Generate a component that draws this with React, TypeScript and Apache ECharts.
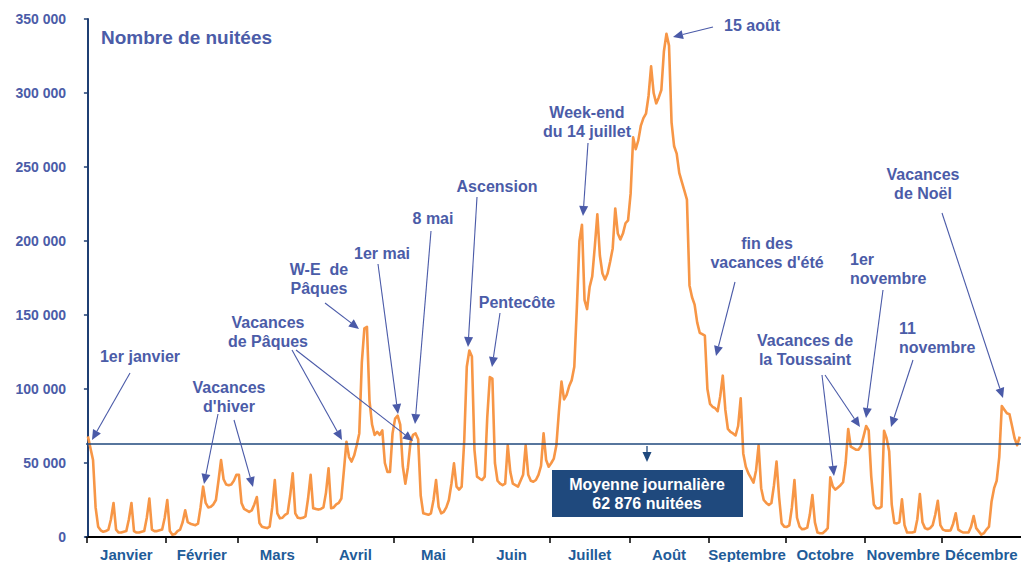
import React, { useEffect, useRef } from "react";
import * as echarts from "echarts";

// ---- Data (nuitées, in thousands), one value per day of the year ----
const MONTHS = ["Janvier", "Février", "Mars", "Avril", "Mai", "Juin", "Juillet", "Août", "Septembre", "Octobre", "Novembre", "Décembre"];
const JAN = [68, 60, 52, 20, 7, 4.5, 3.5, 4, 5, 12, 23, 5, 3, 3, 3.5, 4, 12, 23, 4, 3, 3, 3.5, 4, 13, 26, 5, 4, 4, 4.5, 5, 13];
const FEB = [25, 4, 1.5, 2, 4, 5, 10, 18, 10, 9, 8.5, 8, 9, 20, 34, 23, 20, 20.5, 22, 25, 38, 52, 39, 35.5, 35, 35.5, 38, 42];
const MAR = [42, 23, 19, 18, 17, 18, 22, 27, 9.5, 7, 6.5, 6, 7, 20, 38.5, 16, 12.6, 13, 15, 16, 28, 43, 16, 13, 12.6, 13, 14, 26, 42, 19.4, 19];
const APR = [18.5, 19, 20, 30, 46.4, 19.4, 20, 22, 23, 26, 45, 64.4, 54, 51, 55, 62, 70, 118, 141, 142, 92, 76, 69, 71, 69, 72, 50, 44, 44, 70];
const MAY = [80, 82, 76, 48, 36, 47, 64, 69, 70, 66, 28, 16, 15.5, 15, 16, 25, 38.5, 20.5, 16, 17, 20, 25, 36, 49.8, 34, 32, 34, 65, 115, 126, 122];
const JUN = [58.8, 40.8, 39.5, 38.5, 40.8, 81, 108, 107, 50, 38, 36, 35, 36, 62, 44, 36, 35, 34, 38, 42, 62, 42, 38, 37.4, 38.5, 42, 48, 70, 52, 47.5];
const JUL = [50, 53, 62, 85, 105, 93, 96, 102, 106, 115, 155, 200, 211, 160, 154, 169, 176, 196, 218, 190, 178, 174, 178, 186, 195, 222, 205, 201, 205, 212, 214];
const AUG = [232, 270, 262, 268, 278, 283, 286, 298, 318, 300, 293, 297, 302, 328, 340, 332, 280, 264, 259, 246, 240, 234, 228, 170, 162, 157, 145, 138, 137, 136, 100];
const SEP = [90, 88, 87, 85, 95, 109, 86, 73, 71, 70, 68.6, 75, 93.7, 56.5, 47.5, 43, 40, 36.7, 45, 62, 33, 25, 23, 21.6, 23, 35, 51, 27, 9.2, 7];
const OCT = [6.8, 7.9, 20, 38.5, 13, 7, 5.2, 5.5, 6.3, 15, 28.4, 9.9, 3, 2.5, 2.5, 4, 6, 40.3, 34, 32, 33.5, 35, 37, 50, 73, 61, 60, 59, 59, 61.5, 68];
const NOV = [75, 72, 41, 22, 19.4, 19.4, 20.5, 71.8, 66.7, 58, 22, 9.5, 9.2, 10, 25.5, 8, 3, 3, 3, 3.5, 12, 29, 10, 6, 5.2, 6, 8, 15, 24.5, 8];
const DEC = [5, 4.3, 4.3, 4.5, 9, 16, 5, 3.8, 3, 3, 3, 7, 14.2, 6, 3.8, 1.6, 2.6, 5, 7, 24, 33, 38, 54, 88.5, 86, 83.6, 83, 75, 66.7, 62, 67.8];
const MONTH_VALUES = [JAN, FEB, MAR, APR, MAY, JUN, JUL, AUG, SEP, OCT, NOV, DEC];
const MEAN = 62876;
const Y_MAX = 350000;
const Y_STEP = 50000;

const FONT = "Arial, 'Liberation Sans', Helvetica, sans-serif";
const ANN_COLOR = "#4B5CA8";
const ARROW_COLOR = "#4A5AA8";
const NAVY = "#1F497D";

type Ann = { lines: string[]; x: number; y: number; align?: "left" | "center" };
const ANNOTATIONS: Ann[] = [
  { lines: ["1er janvier"], x: 140, y: 356 },
  { lines: ["Vacances", "d'hiver"], x: 229, y: 387 },
  { lines: ["Vacances", "de Pâques"], x: 268, y: 322 },
  { lines: ["W-E  de", "Pâques"], x: 319, y: 269 },
  { lines: ["1er mai"], x: 382, y: 253 },
  { lines: ["8 mai"], x: 433, y: 218 },
  { lines: ["Ascension"], x: 497, y: 186 },
  { lines: ["Pentecôte"], x: 517, y: 302 },
  { lines: ["Week-end", "du 14 juillet"], x: 587, y: 112 },
  { lines: ["15 août"], x: 752, y: 25 },
  { lines: ["fin des", "vacances d'été"], x: 767, y: 243 },
  { lines: ["Vacances de", "la Toussaint"], x: 805, y: 340 },
  { lines: ["1er", "novembre"], x: 850, y: 259, align: "left" },
  { lines: ["11", "novembre"], x: 899, y: 328, align: "left" },
  { lines: ["Vacances", "de Noël"], x: 923, y: 174 },
];
const ARROWS: [number, number, number, number][] = [
  [130, 373, 92, 440],
  [218, 414, 204, 484],
  [234, 420, 253, 487],
  [292, 350, 342, 440],
  [296, 350, 413, 441],
  [325, 303, 359, 329],
  [378, 264, 398, 414],
  [431, 231, 415, 424],
  [477, 197, 468, 347],
  [500, 313, 492, 367],
  [588, 143, 583, 216],
  [713, 27, 673, 37],
  [735, 282, 716, 356],
  [822, 375, 834, 476],
  [825, 375, 860, 427],
  [883, 290, 866, 418],
  [913, 360, 891, 427],
  [942, 213, 1003, 398],
];

function arrow(x1: number, y1: number, x2: number, y2: number, color: string, width = 1.1): any[] {
  const dx = x2 - x1;
  const dy = y2 - y1;
  const len = Math.sqrt(dx * dx + dy * dy);
  const ux = dx / len;
  const uy = dy / len;
  const L = 10;
  const W = 4.5;
  const bx = x2 - ux * L;
  const by = y2 - uy * L;
  return [
    { type: "line", z: 20, shape: { x1, y1, x2: bx, y2: by }, style: { stroke: color, lineWidth: width } },
    {
      type: "polygon",
      z: 20,
      shape: { points: [[x2, y2], [bx - uy * W, by + ux * W], [bx + uy * W, by - ux * W]] },
      style: { fill: color },
    },
  ];
}

export default function App() {
  const ref = useRef<HTMLDivElement>(null);
  useEffect(() => {
    if (!ref.current) return;
    const chart = echarts.init(ref.current, null, { renderer: "svg" });

    const points: [number, number][] = [];
    const tickVals: number[] = [];
    const labelVals: number[] = [];
    const labelMap = new Map<number, string>();
    let start = 0;
    MONTH_VALUES.forEach((arr, m) => {
      tickVals.push(start - 0.5);
      const mid = start - 0.5 + arr.length / 2;
      labelVals.push(mid);
      labelMap.set(mid, MONTHS[m]);
      arr.forEach((v, i) => {
        points.push([start + i, Math.round(v * 1000)]);
      });
      start += arr.length;
    });

    const graphics: any[] = [
      {
        type: "text",
        z: 20,
        x: 101,
        y: 37,
        style: { text: "Nombre de nuitées", font: `bold 19px ${FONT}`, fill: ANN_COLOR, textAlign: "left", textVerticalAlign: "middle" },
      },
    ];
    ANNOTATIONS.forEach((a) => {
      a.lines.forEach((t, i) => {
        graphics.push({
          type: "text",
          z: 20,
          x: a.x,
          y: a.y + i * 19,
          style: { text: t, font: `bold 16px ${FONT}`, fill: ANN_COLOR, textAlign: a.align || "center", textVerticalAlign: "middle" },
        });
      });
    });
    ARROWS.forEach((a) => graphics.push(...arrow(a[0], a[1], a[2], a[3], ARROW_COLOR)));
    graphics.push(...arrow(647, 446, 647, 462, NAVY, 1.3));
    graphics.push({ type: "rect", z: 19, shape: { x: 552, y: 470, width: 191, height: 47 }, style: { fill: NAVY } });
    graphics.push({
      type: "text",
      z: 21,
      x: 647,
      y: 484,
      style: { text: "Moyenne journalière", font: `bold 16px ${FONT}`, fill: "#ffffff", textAlign: "center", textVerticalAlign: "middle" },
    });
    graphics.push({
      type: "text",
      z: 21,
      x: 647,
      y: 503,
      style: { text: `${Math.floor(MEAN / 1000)} ${String(MEAN % 1000).padStart(3, "0")} nuitées`, font: `bold 16px ${FONT}`, fill: "#ffffff", textAlign: "center", textVerticalAlign: "middle" },
    });

    chart.setOption({
      animation: false,
      backgroundColor: "#ffffff",
      grid: { left: 86, right: 0, top: 19, bottom: 25, containLabel: false },
      xAxis: {
        type: "value",
        min: -0.75,
        max: start - 0.5,
        axisLine: { show: true, onZero: false, lineStyle: { color: "#000000", width: 2 } },
        axisTick: { show: true, customValues: tickVals, length: 6, lineStyle: { color: "#000000", width: 1.5 } },
        axisLabel: {
          customValues: labelVals,
          formatter: (v: number) => labelMap.get(v) || "",
          color: "#1F5C99",
          fontWeight: "bold",
          fontSize: 15,
          fontFamily: FONT,
          margin: 10,
          showMinLabel: true,
          showMaxLabel: true,
        },
        splitLine: { show: false },
      },
      yAxis: {
        type: "value",
        min: 0,
        max: Y_MAX,
        interval: Y_STEP,
        axisLine: { show: true, lineStyle: { color: "#1F3F73", width: 2 } },
        axisTick: { show: true, length: 4, lineStyle: { color: "#1F3F73", width: 1.5 } },
        axisLabel: {
          formatter: (v: number) => (v === 0 ? "0" : `${v / 1000} 000`),
          color: ANN_COLOR,
          fontWeight: "bold",
          fontSize: 14,
          fontFamily: FONT,
          margin: 20,
        },
        splitLine: { show: false },
      },
      series: [
        {
          type: "line",
          data: points,
          showSymbol: false,
          silent: true,
          z: 2,
          lineStyle: { color: "#F79646", width: 2.6, join: "round" },
        },
        {
          type: "line",
          data: [],
          z: 3,
          silent: true,
          markLine: {
            silent: true,
            symbol: ["none", "none"],
            label: { show: false },
            lineStyle: { color: NAVY, width: 1.5, type: "solid" },
            data: [{ yAxis: MEAN }],
          },
        },
      ],
      graphic: graphics,
    });
    return () => chart.dispose();
  }, []);
  return <div ref={ref} style={{ position: "absolute", left: 0, top: 0, width: 1021, height: 562, background: "#fff" }} />;
}
